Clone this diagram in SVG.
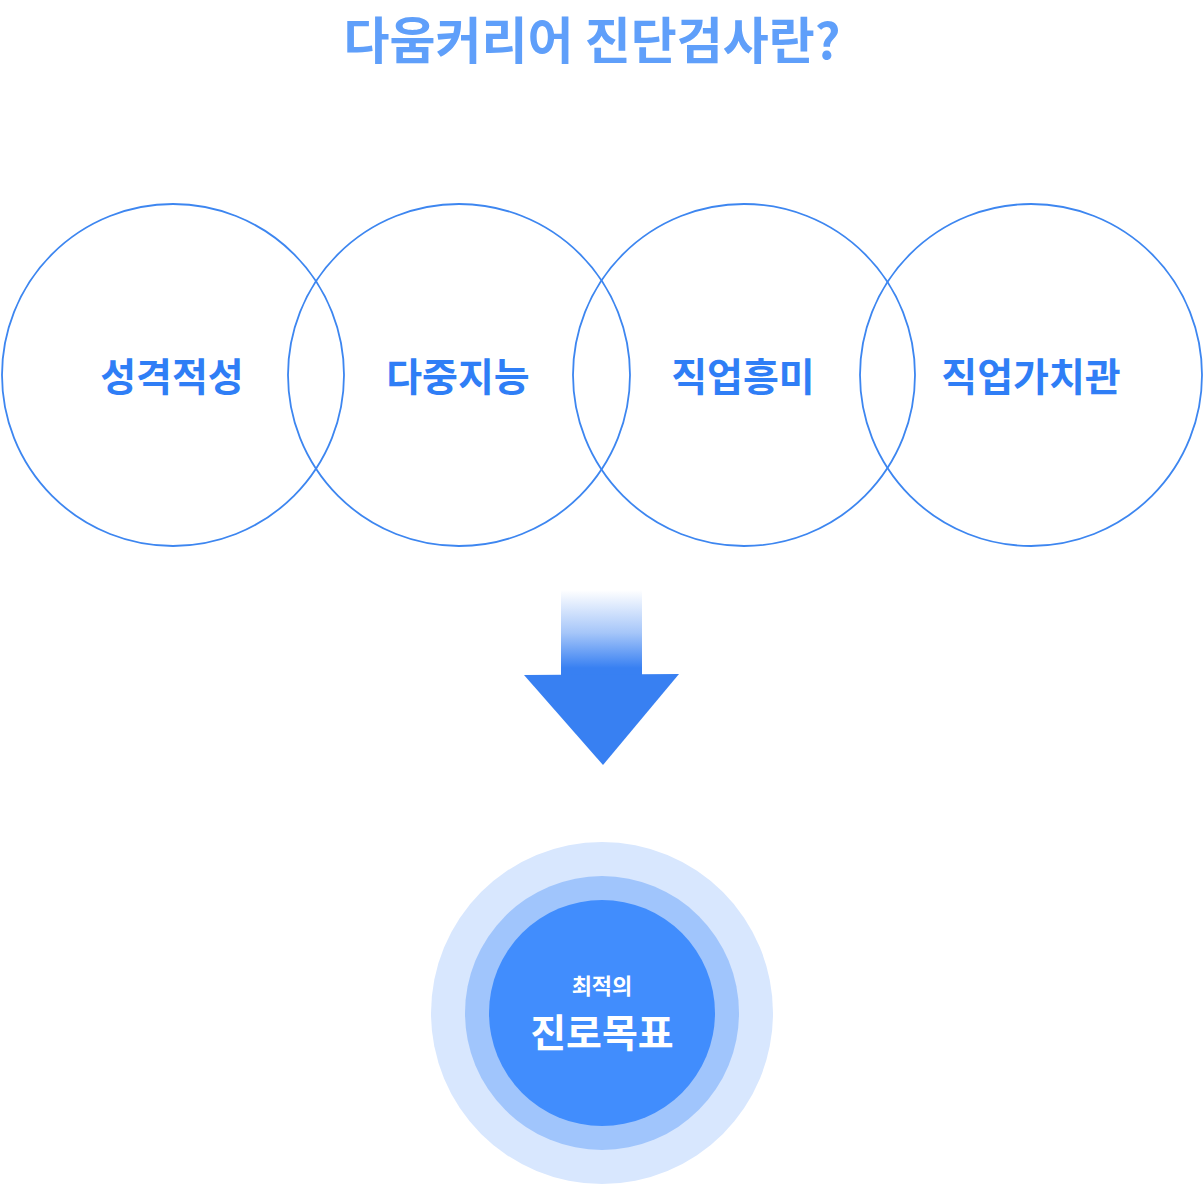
<svg xmlns="http://www.w3.org/2000/svg" width="1204" height="1185" viewBox="0 0 1204 1185">
<defs>
<style>
.ring{fill:none;stroke:#3d86f0;stroke-width:1.8}
.lbl{font-family:"Noto Sans CJK KR","Noto Sans",sans-serif;font-weight:700;font-size:39px;fill:#2f7ef6;text-anchor:middle}
.ttl{font-family:"Noto Sans CJK KR","Noto Sans",sans-serif;font-weight:700;font-size:50px;fill:#5f9ffa;text-anchor:middle}
.w{font-family:"Noto Sans CJK KR","Noto Sans",sans-serif;font-weight:700;fill:#ffffff;text-anchor:middle}
</style>
<linearGradient id="shaft" x1="0" y1="590" x2="0" y2="668" gradientUnits="userSpaceOnUse">
<stop offset="0" stop-color="#3880f2" stop-opacity="0"/>
<stop offset="0.55" stop-color="#3880f2" stop-opacity="0.45"/>
<stop offset="1" stop-color="#3880f2" stop-opacity="1"/>
</linearGradient>
</defs>
<rect width="1204" height="1185" fill="#ffffff"/>
<g id="title"><text class="ttl" x="592" y="59">다움커리어 진단검사란?</text></g>
<g id="n1"><circle class="ring" cx="173" cy="375" r="171"/><text class="lbl" x="172" y="391">성격적성</text></g>
<g id="n2"><circle class="ring" cx="459" cy="375" r="171"/><text class="lbl" x="458" y="391">다중지능</text></g>
<g id="n3"><circle class="ring" cx="744" cy="375" r="171"/><text class="lbl" x="743" y="391">직업흥미</text></g>
<g id="n4"><circle class="ring" cx="1031" cy="375" r="171"/><text class="lbl" x="1031" y="391">직업가치관</text></g>
<g id="connectors">
<rect x="561" y="590" width="81" height="86" fill="url(#shaft)"/>
<polygon points="524,675 679,674 603,765" fill="#3880f2"/>
</g>
<g id="goal">
<circle cx="602" cy="1013" r="171" fill="#d8e7fe"/>
<circle cx="602" cy="1013" r="137" fill="#a0c5fc"/>
<circle cx="602" cy="1013" r="113" fill="#418dfd"/>
<text class="w" x="602" y="994" font-size="22">최적의</text>
<text class="w" x="602" y="1047" font-size="39">진로목표</text>
</g>
</svg>
